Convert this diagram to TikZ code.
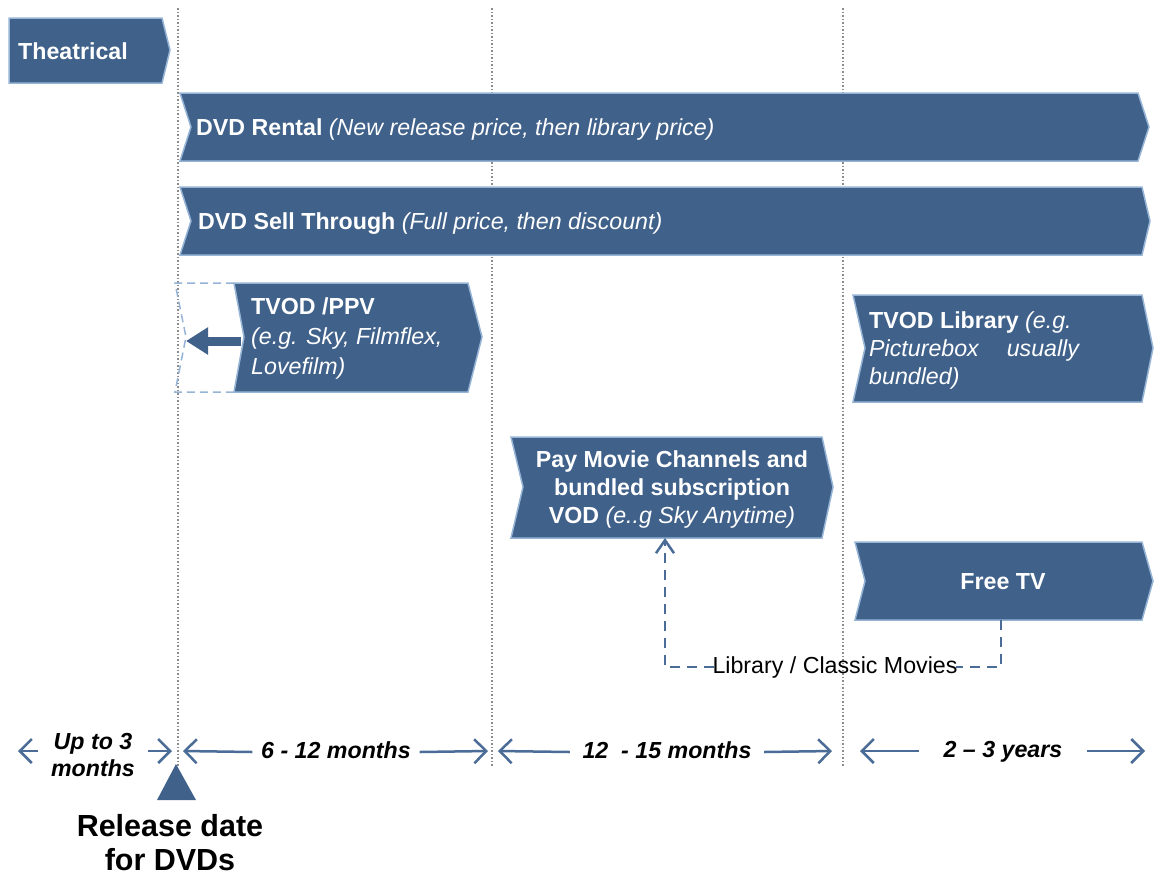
\documentclass[tikz,border=0pt]{standalone}
\usepackage{fontspec}
\setmainfont{Liberation Sans}
\usetikzlibrary{arrows.meta}
\definecolor{chevfill}{RGB}{64,97,138}
\definecolor{chevedge}{RGB}{150,180,214}
\definecolor{spanblue}{RGB}{74,108,150}
\definecolor{gridgray}{RGB}{140,140,140}
\tikzset{
  chevron/.style={fill=chevfill, draw=chevedge, line width=1.5pt, line join=miter},
  chevtext/.style={text=white, inner sep=0pt},
  spanlabel/.style={font=\bfseries\itshape, text height=17pt, text depth=5pt, inner sep=0pt},
  spanarrow/.style={draw=spanblue, line width=2.5pt, -{Straight Barb[length=12pt,width=24pt]}},
  libline/.style={draw=spanblue, line width=2.5pt, dash pattern=on 10pt off 7pt},
}
\begin{document}
\begin{tikzpicture}[x=1pt,y=-1pt]
                \useasboundingbox (0,0) rectangle (1154,876);
                {\fontsize{23.2}{28}\selectfont

                % Drawing period separators
                \draw [gridgray, line width=1.5pt, dotted] (178,8) -- (178,766);%
                \draw [gridgray, line width=1.5pt, dotted] (492,8) -- (492,766);%
                \draw [gridgray, line width=1.5pt, dotted] (843,8) -- (843,766);%

                % Drawing band Theatrical
                \draw [chevron] (9,18) -- (162,18) -- (170,50) -- (162,83) -- (9,83) -- cycle;%
                \node [chevtext, anchor=base west] (theatrical) at (18,59) {\bfseries Theatrical};%

                % Drawing band DVD Rental
                \draw [chevron] (180,93) -- (1138,93) -- (1149,127) -- (1138,161) -- (180,161) -- (191,127) -- cycle;%
                \node [chevtext, anchor=base west] (dvdrental) at (196,135) {\textbf{DVD Rental} \textit{(New release price, then library price)}};%

                % Drawing band DVD Sell Through
                \draw [chevron] (180,187) -- (1142,187) -- (1150,221) -- (1142,255) -- (180,255) -- (191,221) -- cycle;%
                \node [chevtext, anchor=base west] (dvdsell) at (198,229) {\textbf{DVD Sell Through} \textit{(Full price, then discount)}};%

                % Drawing band TVOD /PPV, with its window moving earlier
                \draw [chevedge, line width=1.5pt, dash pattern=on 8pt off 5pt] (234,283) -- (175,283) -- (186,337) -- (175,392) -- (234,392);%
                \draw [chevron] (234,283) -- (468,283) -- (482,337) -- (468,392) -- (234,392) -- (244,337) -- cycle;%
                \draw [chevfill, line width=9pt, -{Triangle[length=22pt,width=26pt]}] (241,341) -- (186,341);%
                \node [chevtext, anchor=west, align=left, font=\fontsize{23.2}{30}\selectfont] (tvodppv) at (251,338) {\textbf{TVOD /PPV}\\\textit{(e.g. Sky, Filmflex,}\\\textit{Lovefilm)}};%

                % Drawing band TVOD Library
                \draw [chevron] (853,295) -- (1142,295) -- (1153,348) -- (1142,402) -- (853,402) -- (865,348) -- cycle;%
                \node [chevtext, anchor=west, align=left] (tvodlib) at (869,350) {\textbf{TVOD Library} \textit{(e.g.}\\\textit{Picturebox\hspace{28pt}usually}\\\textit{bundled)}};%

                % Drawing band Pay Movie Channels
                \draw [chevron] (511,437) -- (822,437) -- (833,487) -- (822,538) -- (511,538) -- (523,487) -- cycle;%
                \node [chevtext, align=center] (paymovie) at (672,489) {\textbf{Pay Movie Channels and}\\\textbf{bundled subscription}\\\textbf{VOD} \textit{(e..g Sky Anytime)}};%

                % Drawing band Free TV
                \draw [chevron] (855,542) -- (1142,542) -- (1153,581) -- (1142,620) -- (855,620) -- (865,581) -- cycle;%
                \node [chevtext, anchor=base] (freetv) at (1003,589) {\bfseries Free TV};%

                % Drawing library route back to pay channels
                \coordinate (freebot) at (1001,620);%
                \coordinate (paybot) at (665,538);%
                \node [inner ysep=0pt, inner xsep=-2pt] (libtext) at (835,667) {Library / Classic Movies};%
                \draw [libline] (freebot) |- (libtext.east);%
                \draw [libline, -{Straight Barb[length=13pt,width=18pt]}] (libtext.west) -| (paybot);%

                % Drawing period spans
                \coordinate (uptoL) at (18,751);%
                \coordinate (uptoR) at (172,751);%
                \node [spanlabel, align=center, minimum width=110pt, font=\fontsize{23.2}{27}\selectfont\bfseries\itshape] (upto) at (93,770) {Up to 3\\months};%
                \draw [spanarrow] (upto.west |- uptoL) -- (uptoL);%
                \draw [spanarrow] (upto.east |- uptoR) -- (uptoR);%

                \coordinate (sixL) at (183,751);%
                \coordinate (sixR) at (488,751);%
                \node [spanlabel, minimum width=167pt] (sixtwelve) at (336,752) {6 - 12 months};%
                \draw [spanarrow] (sixtwelve.west) -- (sixL);%
                \draw [spanarrow] (sixtwelve.east) -- (sixR);%

                \coordinate (twelveL) at (498,751);%
                \coordinate (twelveR) at (832,751);%
                \node [spanlabel, minimum width=194pt] (twelvefifteen) at (667,752) {12\ \ - 15 months};%
                \draw [spanarrow] (twelvefifteen.west) -- (twelveL);%
                \draw [spanarrow] (twelvefifteen.east) -- (twelveR);%

                \coordinate (yearsL) at (860,751);%
                \coordinate (yearsR) at (1145,751);%
                \node [spanlabel, minimum width=168pt] (twothree) at (1003,751) {2 -- 3 years};%
                \draw [spanarrow] (twothree.west) -- (yearsL);%
                \draw [spanarrow] (twothree.east) -- (yearsR);%

                % Marking DVD release date
                \fill [chevfill] (176,764) -- (196,800) -- (157,800) -- cycle;%
                \node [align=center, font=\fontsize{30.5}{34}\selectfont\bfseries] (releasedvd) at (170,843) {Release date\\for DVDs};%
                }
            \end{tikzpicture}
\end{document}
